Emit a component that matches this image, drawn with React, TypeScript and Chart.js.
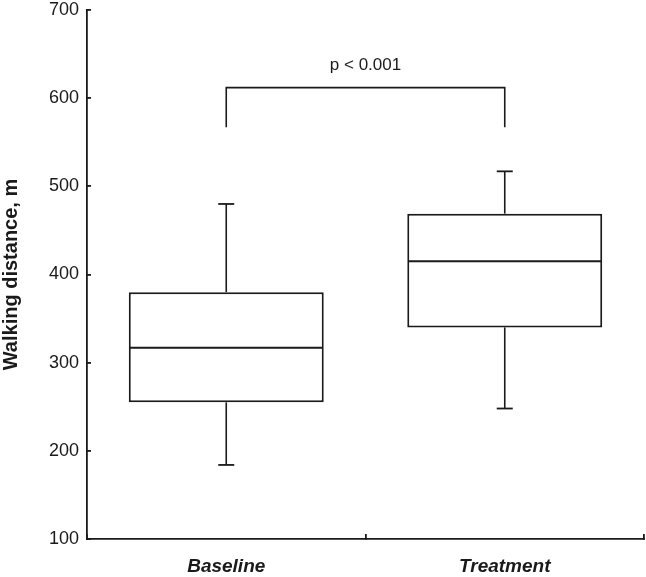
import React, { useEffect, useRef } from 'react';
import { Chart, registerables } from 'chart.js';

Chart.register(...registerables);

// ---- data ----
const categories = ['Baseline', 'Treatment'];
const whiskerLow = [184, 248];
const q1 = [255, 340];
const median = [317, 415];
const q3 = [380, 469];
const whiskerHigh = [480, 517];
const yMin = 100;
const yMax = 700;
const yStep = 100;
const yTitle = 'Walking distance, m';
const pLabel = 'p < 0.001';
const bracketTop = 612;
const bracketBottom = 567;
const pLabelValue = 632;

const FONT = '"Liberation Sans", Arial, Helvetica, sans-serif';
const INK = '#1a1a1a';

const boxExtras = {
  id: 'boxExtras',
  afterDatasetsDraw(chart: any) {
    const { ctx, scales } = chart;
    const x = scales.x;
    const y = scales.y;
    const meta = chart.getDatasetMeta(0);
    ctx.save();
    ctx.strokeStyle = INK;
    ctx.lineCap = 'butt';
    const seg = (x1: number, y1: number, x2: number, y2: number) => {
      ctx.beginPath();
      ctx.moveTo(x1, y1);
      ctx.lineTo(x2, y2);
      ctx.stroke();
    };
    categories.forEach((_, i) => {
      const bar = meta.data[i];
      const cx = x.getPixelForValue(i);
      const half = bar.width / 2;
      const capHalf = 8;
      // median
      ctx.lineWidth = 2;
      const ym = y.getPixelForValue(median[i]);
      seg(cx - half + 1, ym, cx + half - 1, ym);
      // whiskers
      ctx.lineWidth = 1.6;
      const yq3 = y.getPixelForValue(q3[i]);
      const yq1 = y.getPixelForValue(q1[i]);
      const yHi = y.getPixelForValue(whiskerHigh[i]);
      const yLo = y.getPixelForValue(whiskerLow[i]);
      seg(cx, yq3, cx, yHi);
      seg(cx, yq1, cx, yLo);
      ctx.lineWidth = 1.8;
      seg(cx - capHalf, yHi, cx + capHalf, yHi);
      seg(cx - capHalf, yLo, cx + capHalf, yLo);
    });
    // significance bracket
    const x0 = x.getPixelForValue(0);
    const x1 = x.getPixelForValue(1);
    const yt = y.getPixelForValue(bracketTop);
    const yb = y.getPixelForValue(bracketBottom);
    ctx.lineWidth = 1.6;
    ctx.beginPath();
    ctx.moveTo(x0, yb);
    ctx.lineTo(x0, yt);
    ctx.lineTo(x1, yt);
    ctx.lineTo(x1, yb);
    ctx.stroke();
    ctx.fillStyle = INK;
    ctx.font = `17px ${FONT}`;
    ctx.textAlign = 'center';
    ctx.textBaseline = 'alphabetic';
    ctx.fillText(pLabel, (x0 + x1) / 2, y.getPixelForValue(pLabelValue));
    ctx.restore();
  },
};

export default function App() {
  const canvasRef = useRef<HTMLCanvasElement | null>(null);

  useEffect(() => {
    document.body.style.margin = '0';
    const canvas = canvasRef.current;
    if (!canvas) return;
    const chart = new Chart(canvas, {
      type: 'bar',
      data: {
        labels: categories,
        datasets: [
          {
            data: categories.map((_, i) => [q1[i], q3[i]]) as any,
            backgroundColor: '#ffffff',
            borderColor: INK,
            borderWidth: 2,
            borderSkipped: false,
            barPercentage: 0.7,
            categoryPercentage: 1,
          },
        ],
      },
      options: {
        animation: false,
        responsive: true,
        maintainAspectRatio: false,
        layout: { padding: { top: 10, right: 2, bottom: 0, left: 0 } },
        plugins: {
          legend: { display: false },
          tooltip: { enabled: false },
        },
        scales: {
          x: {
            type: 'category',
            offset: true,
            grid: {
              offset: true,
              drawOnChartArea: false,
              tickLength: -5,
              color: INK,
              lineWidth: 1.8,
            },
            border: { color: INK, width: 1.8 },
            ticks: {
              color: INK,
              padding: 23,
              font: { family: FONT, size: 19, weight: 'bold', style: 'italic', lineHeight: 1 },
            },
            afterFit: (s: any) => {
              s.height = 38;
              s.paddingLeft = 0;
              s.paddingRight = 0;
            },
          },
          y: {
            min: yMin,
            max: yMax,
            grid: {
              drawOnChartArea: false,
              tickLength: -4,
              color: INK,
              lineWidth: 1.8,
            },
            border: { color: INK, width: 1.8 },
            ticks: {
              stepSize: yStep,
              color: INK,
              padding: 12,
              font: { family: FONT, size: 18, lineHeight: 1 },
            },
            title: {
              display: true,
              text: yTitle,
              color: INK,
              padding: 0,
              font: { family: FONT, size: 20, weight: 'bold', lineHeight: 1.1 },
            },
            afterFit: (s: any) => {
              s.width = 87;
              s.paddingTop = 0;
              s.paddingBottom = 0;
            },
          },
        },
      },
      plugins: [boxExtras],
    });
    return () => chart.destroy();
  }, []);

  return (
    <div style={{ width: 646, height: 577, position: 'relative' }}>
      <canvas ref={canvasRef} />
    </div>
  );
}
